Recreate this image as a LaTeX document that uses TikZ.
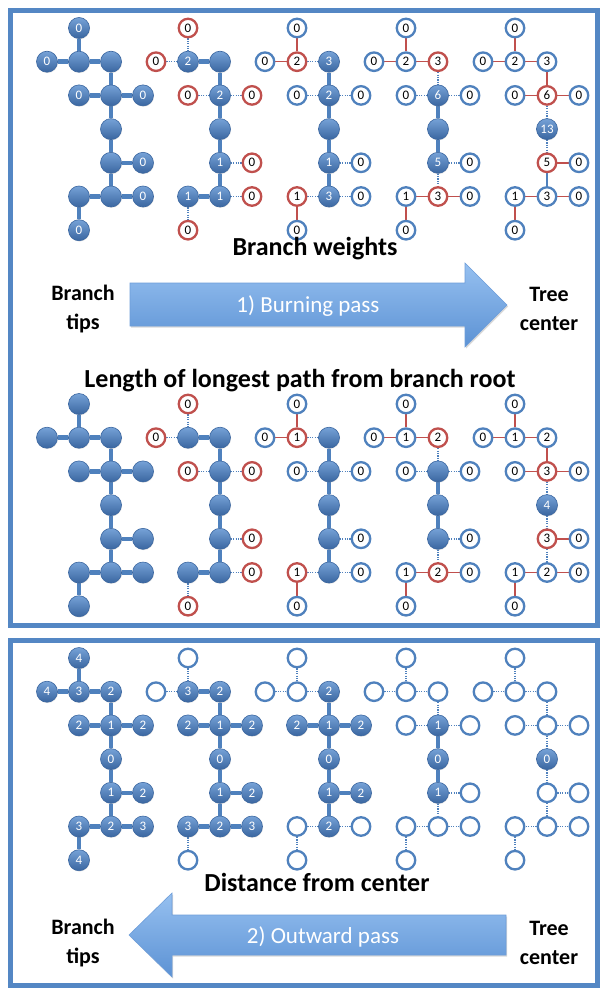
\documentclass[tikz,border=0pt]{standalone}
\usepackage{fontspec}
\setmainfont{Carlito}
\usetikzlibrary{backgrounds,shadows}
\definecolor{acc}{RGB}{79,129,189}
\definecolor{accdark}{RGB}{58,102,160}
\definecolor{acclight}{RGB}{118,162,215}
\definecolor{redc}{RGB}{192,80,77}
\definecolor{arrtop}{RGB}{150,192,240}
\definecolor{arrbot}{RGB}{92,146,212}
\definecolor{arredge}{RGB}{110,158,218}
\definecolor{framec}{RGB}{84,135,196}
\pgfdeclarelayer{paper}
\pgfsetlayers{paper,background,main}
\tikzset{
  numfont/.style={font=\fontsize{13}{13}\selectfont},
  fil/.style={circle, minimum size=21pt, inner sep=0pt, top color=acclight, bottom color=accdark,
    draw=accdark, line width=0.6pt, text=white, numfont,
    drop shadow={opacity=0.25,shadow xshift=0.5pt,shadow yshift=-0.8pt}},
  opb/.style={circle, minimum size=18.5pt, inner sep=0pt, fill=white, draw=acc, line width=2.3pt,
    text=black, numfont, drop shadow={opacity=0.25,shadow xshift=0.5pt,shadow yshift=-0.8pt}},
  opr/.style={opb, draw=redc},
  ethick/.style={draw=acc, line width=4.5pt},
  ered/.style={draw=redc, line width=1.5pt},
  edot/.style={draw=acc, line width=1.4pt, dash pattern=on 1.2pt off 1.2pt},
  eblue/.style={draw=acc, line width=1.5pt},
  frame/.style={draw=framec, line width=5pt},
  arrowbody/.style={top color=arrtop, bottom color=arrbot, draw=arredge, line width=0.6pt,
    drop shadow={opacity=0.3,shadow xshift=1pt,shadow yshift=-1.5pt}},
  arrtext/.style={text=white, font=\fontsize{23}{23}\selectfont},
  ttl/.style={text=black, font=\bfseries\fontsize{26}{26}\selectfont},
  side/.style={text=black, align=center, font=\bfseries\fontsize{22}{29}\selectfont},
}
% #1 panel, #2 tree index, #3 top row y, #4 node states, #5 edge list macro
\newcommand\drawtree[5]{%
  \foreach \nn/\cc/\rr in {A/1/0,C/0/1,B/1/1,D/2/1,F/1/2,E/2/2,G/3/2,H/2/3,I/2/4,J/3/4,M/1/5,K/2/5,L/3/5,N/1/6}
    \coordinate (#1t#2\nn pos) at ({47+109*#2+32*\cc},{#3+33.7*\rr});
  \foreach \nn/\sty/\lab in {#4}
    \node[\sty] (#1t#2\nn) at (#1t#2\nn pos) {\lab};
  \begin{pgfonlayer}{background}
    \foreach \ea/\eb/\sty in #5
      \draw[\sty] (#1t#2\ea) -- (#1t#2\eb);
  \end{pgfonlayer}
}
\def\EA{A/B/ethick,C/B/ethick,B/D/ethick,D/E/ethick,E/F/ethick,E/G/ethick,E/H/ethick,H/I/ethick,I/J/ethick,I/K/ethick,K/L/ethick,K/M/ethick,M/N/ethick}
\def\EB{A/B/edot,C/B/edot,B/D/ethick,D/E/ethick,E/F/edot,E/G/edot,E/H/ethick,H/I/ethick,I/J/edot,I/K/ethick,K/L/edot,K/M/ethick,M/N/edot}
\def\EC{A/B/ered,C/B/ered,B/D/edot,D/E/ethick,E/F/edot,E/G/edot,E/H/ethick,H/I/ethick,I/J/edot,I/K/ethick,K/L/edot,K/M/edot,M/N/ered}
\def\ED{A/B/ered,C/B/ered,B/D/ered,D/E/edot,E/F/edot,E/G/edot,E/H/ethick,H/I/ethick,I/J/edot,I/K/edot,K/L/ered,K/M/ered,M/N/ered}
\def\EEa{A/B/ered,C/B/ered,B/D/ered,D/E/ered,E/F/ered,E/G/ered,E/H/edot,H/I/edot,I/J/ered,I/K/eblue,K/L/ered,K/M/ered,M/N/ered}
\def\EEb{A/B/ered,C/B/ered,B/D/ered,D/E/ered,E/F/ered,E/G/ered,E/H/edot,H/I/edot,I/J/ered,I/K/edot,K/L/ered,K/M/ered,M/N/ered}
\def\FB{A/B/edot,C/B/edot,B/D/ethick,D/E/ethick,E/F/ethick,E/G/ethick,E/H/ethick,H/I/ethick,I/J/ethick,I/K/ethick,K/L/ethick,K/M/ethick,M/N/edot}
\def\FC{A/B/edot,C/B/edot,B/D/edot,D/E/ethick,E/F/ethick,E/G/ethick,E/H/ethick,H/I/ethick,I/J/ethick,I/K/ethick,K/L/edot,K/M/edot,M/N/edot}
\def\FD{A/B/edot,C/B/edot,B/D/edot,D/E/edot,E/F/edot,E/G/edot,E/H/ethick,H/I/ethick,I/J/edot,I/K/edot,K/L/edot,K/M/edot,M/N/edot}
\def\FE{A/B/edot,C/B/edot,B/D/edot,D/E/edot,E/F/edot,E/G/edot,E/H/edot,H/I/edot,I/J/edot,I/K/edot,K/L/edot,K/M/edot,M/N/edot}
\begin{document}
\begin{tikzpicture}[x=1pt,y=-1pt]
\useasboundingbox (0,0) rectangle (600,990);
\begin{pgfonlayer}{paper}
\fill[white] (0,0) rectangle (600,990);
\end{pgfonlayer}
% frames
\draw[frame] (10,11) rectangle (597,625);
\draw[frame] (10,640) rectangle (597,985);

% ---------- Panel 1: branch weights ----------
\drawtree{P1}{0}{28}{A/fil/0,C/fil/0,B/fil/{},D/fil/{},F/fil/0,E/fil/{},G/fil/0,H/fil/{},I/fil/{},J/fil/0,M/fil/{},K/fil/{},L/fil/0,N/fil/0}{\EA}
\drawtree{P1}{1}{28}{A/opr/0,C/opr/0,B/fil/2,D/fil/{},F/opr/0,E/fil/2,G/opr/0,H/fil/{},I/fil/1,J/opr/0,M/fil/1,K/fil/1,L/opr/0,N/opr/0}{\EB}
\drawtree{P1}{2}{28}{A/opb/0,C/opb/0,B/opr/2,D/fil/3,F/opb/0,E/fil/2,G/opb/0,H/fil/{},I/fil/1,J/opb/0,M/opr/1,K/fil/3,L/opb/0,N/opb/0}{\EC}
\drawtree{P1}{3}{28}{A/opb/0,C/opb/0,B/opb/2,D/opr/3,F/opb/0,E/fil/6,G/opb/0,H/fil/{},I/fil/5,J/opb/0,M/opb/1,K/opr/3,L/opb/0,N/opb/0}{\ED}
\drawtree{P1}{4}{28}{A/opb/0,C/opb/0,B/opb/2,D/opb/3,F/opb/0,E/opr/6,G/opb/0,H/fil/13,I/opr/5,J/opb/0,M/opb/1,K/opb/3,L/opb/0,N/opb/0}{\EEa}

\node[ttl] (bw) at (315,249) {Branch weights};
\path[arrowbody] (130,283) -- (465,283) -- (465,263) -- (507,305) -- (465,347) -- (465,326) -- (130,326) -- cycle;
\node[arrtext] (bp) at (308,306) {1) Burning pass};
\node[side] (bt1) at (83,309) {Branch\\tips};
\node[side] (tc1) at (549,309) {Tree\\center};

% ---------- Panel 2: longest path ----------
\node[ttl] (lp) at (300,381) {Length of longest path from branch root};
\drawtree{P2}{0}{404}{A/fil/{},C/fil/{},B/fil/{},D/fil/{},F/fil/{},E/fil/{},G/fil/{},H/fil/{},I/fil/{},J/fil/{},M/fil/{},K/fil/{},L/fil/{},N/fil/{}}{\EA}
\drawtree{P2}{1}{404}{A/opr/0,C/opr/0,B/fil/{},D/fil/{},F/opr/0,E/fil/{},G/opr/0,H/fil/{},I/fil/{},J/opr/0,M/fil/{},K/fil/{},L/opr/0,N/opr/0}{\EB}
\drawtree{P2}{2}{404}{A/opb/0,C/opb/0,B/opr/1,D/fil/{},F/opb/0,E/fil/{},G/opb/0,H/fil/{},I/fil/{},J/opb/0,M/opr/1,K/fil/{},L/opb/0,N/opb/0}{\EC}
\drawtree{P2}{3}{404}{A/opb/0,C/opb/0,B/opb/1,D/opr/2,F/opb/0,E/fil/{},G/opb/0,H/fil/{},I/fil/{},J/opb/0,M/opb/1,K/opr/2,L/opb/0,N/opb/0}{\ED}
\drawtree{P2}{4}{404}{A/opb/0,C/opb/0,B/opb/1,D/opb/2,F/opb/0,E/opr/3,G/opb/0,H/fil/4,I/opr/3,J/opb/0,M/opb/1,K/opb/2,L/opb/0,N/opb/0}{\EEb}

% ---------- Panel 3: distance from center ----------
\drawtree{P3}{0}{658}{A/fil/4,C/fil/4,B/fil/3,D/fil/2,F/fil/2,E/fil/1,G/fil/2,H/fil/0,I/fil/1,J/fil/2,M/fil/3,K/fil/2,L/fil/3,N/fil/4}{\EA}
\drawtree{P3}{1}{658}{A/opb/{},C/opb/{},B/fil/3,D/fil/2,F/fil/2,E/fil/1,G/fil/2,H/fil/0,I/fil/1,J/fil/2,M/fil/3,K/fil/2,L/fil/3,N/opb/{}}{\FB}
\drawtree{P3}{2}{658}{A/opb/{},C/opb/{},B/opb/{},D/fil/2,F/fil/2,E/fil/1,G/fil/2,H/fil/0,I/fil/1,J/fil/2,M/opb/{},K/fil/2,L/opb/{},N/opb/{}}{\FC}
\drawtree{P3}{3}{658}{A/opb/{},C/opb/{},B/opb/{},D/opb/{},F/opb/{},E/fil/1,G/opb/{},H/fil/0,I/fil/1,J/opb/{},M/opb/{},K/opb/{},L/opb/{},N/opb/{}}{\FD}
\drawtree{P3}{4}{658}{A/opb/{},C/opb/{},B/opb/{},D/opb/{},F/opb/{},E/opb/{},G/opb/{},H/fil/0,I/opb/{},J/opb/{},M/opb/{},K/opb/{},L/opb/{},N/opb/{}}{\FE}

\node[ttl] (dc) at (317,882) {Distance from center};
\path[arrowbody] (506,915) -- (172,915) -- (172,893) -- (129,935) -- (172,977) -- (172,955) -- (506,955) -- cycle;
\node[arrtext] (op) at (323,937) {2) Outward pass};
\node[side] (bt2) at (83,943) {Branch\\tips};
\node[side] (tc2) at (549,943) {Tree\\center};
\end{tikzpicture}
\end{document}
